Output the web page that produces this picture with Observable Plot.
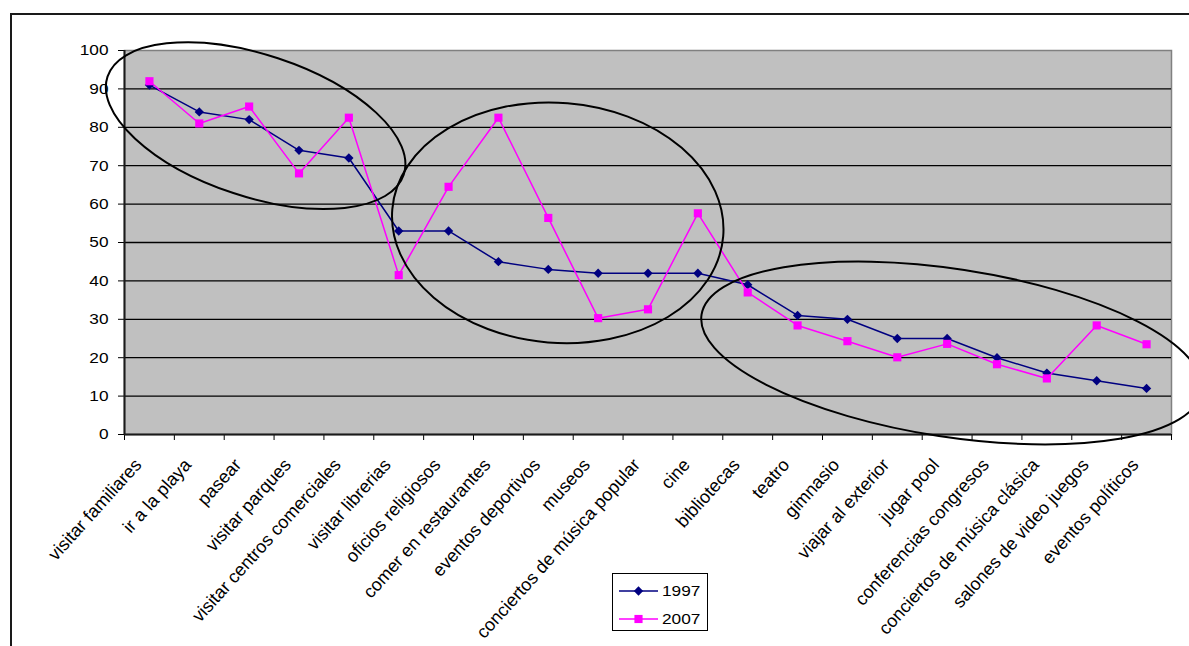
<!DOCTYPE html>
<html>
<head>
<meta charset="utf-8">
<script src="https://cdn.jsdelivr.net/npm/d3@7"></script>
<script src="https://cdn.jsdelivr.net/npm/@observablehq/plot@0.6"></script>
<style>
  html, body { margin: 0; padding: 0; background: #fff; overflow: hidden; }
  #wrap { position: relative; width: 1189px; height: 646px; font-family: "Liberation Sans", Arial, sans-serif; }
  #border { position: absolute; left: 10px; top: 12.5px; width: 1400px; height: 900px;
            border-top: 2px solid #1a1a1a; border-left: 2px solid #1a1a1a; }
  #chart { position: absolute; left: 0; top: 0; }
  #legend { position: absolute; left: 612px; top: 573px; width: 94px; height: 56px;
            border: 1.5px solid #000; background: #fff; }
  .row { position: absolute; left: 0; height: 20px; }
  .row svg { position: absolute; left: 6px; top: 0; }
  .row span { position: absolute; left: 49px; top: 1px; font-size: 15px; line-height: 18px;
              display: inline-block; transform: scaleX(1.15); transform-origin: left center; color: #000; }
</style>
</head>
<body>
<div id="wrap">
  <div id="border"></div>
  <div id="chart"></div>
  <div id="legend"></div>
</div>
<script>
// Actividades de ocio: porcentaje que las realiza, 1997 frente a 2007
const categories = [
  "visitar familiares", "ir a la playa", "pasear", "visitar parques",
  "visitar centros comerciales", "visitar librerias", "oficios religiosos",
  "comer en restaurantes", "eventos deportivos", "museos",
  "conciertos de música popular", "cine", "bibliotecas", "teatro", "gimnasio",
  "viajar al exterior", "jugar pool", "conferencias congresos",
  "conciertos de música clásica", "salones de video juegos", "eventos políticos"
];
const values1997 = [91, 84, 82, 74, 72, 53, 53, 45, 43, 42, 42, 42, 39, 31, 30, 25, 25, 20, 16, 14, 12];
const values2007 = [92, 81, 85.4, 68, 82.5, 41.5, 64.5, 82.5, 56.4, 30.3, 32.6, 57.6, 37, 28.4, 24.3, 20.1, 23.6, 18.3, 14.6, 28.4, 23.5];
const years = ["1997", "2007"];
const yTicks = [0, 10, 20, 30, 40, 50, 60, 70, 80, 90, 100];

const colors = {"1997": "#000080", "2007": "#ff00ff"};

const rows = categories.map((cat, i) => ({i, cat, v1997: values1997[i], v2007: values2007[i]}));
const pos = d => d.i + 0.5;

// Groupings highlighted by hand-drawn ovals: centre (category position, value), radii in px, tilt in degrees
const ovals = [
  {cx: 2.64, cy: 80.3, rx: 156, ry: 71, angle: 18.3},
  {cx: 8.70, cy: 55.0, rx: 166, ry: 120, angle: 4.7},
  {cx: 16.6, cy: 21.1, rx: 253, ry: 84, angle: 8.7}
];

function ovalMark(index, scales) {
  const g = d3.create("svg:g");
  for (const o of ovals) {
    g.append("ellipse")
      .attr("transform", `translate(${scales.x(o.cx)},${scales.y(o.cy)}) rotate(${o.angle})`)
      .attr("rx", o.rx).attr("ry", o.ry)
      .attr("fill", "none").attr("stroke", "#000").attr("stroke-width", 2);
  }
  return g.node();
}

const chart = Plot.plot({
  width: 1189,
  height: 646,
  marginLeft: 124,
  marginRight: 18,
  marginTop: 50,
  marginBottom: 212,
  x: {type: "linear", domain: [0, categories.length]},
  y: {domain: [0, 100]},
  style: {fontFamily: "'Liberation Sans', Arial, sans-serif", fontSize: "15px", color: "#000", background: "transparent", overflow: "visible"},
  marks: [
    Plot.frame({fill: "#c0c0c0", stroke: "#808080", strokeWidth: 1.5}),
    Plot.ruleY(yTicks.filter(t => t > 0 && t < 100), {stroke: "#000", strokeWidth: 1.3}),
    Plot.axisY({ticks: yTicks, tickSize: 6, tickPadding: 10, fontSize: 15, stroke: "#000"}),
    Plot.axisX({ticks: d3.range(categories.length + 1), tickSize: 6, tickFormat: () => "", stroke: "#000"}),
    Plot.ruleX([0], {stroke: "#1a1a1a", strokeWidth: 2}),
    Plot.ruleY([0], {stroke: "#1a1a1a", strokeWidth: 2}),
    Plot.text(rows, {
      x: pos, y: () => 0, text: "cat",
      rotate: -48, textAnchor: "end", lineAnchor: "bottom",
      dx: -7, dy: 31, fontSize: 18, fill: "#000"
    }),
    Plot.line(rows, {x: pos, y: "v1997", stroke: colors["1997"], strokeWidth: 1.5}),
    Plot.dot(rows, {x: pos, y: "v1997", symbol: "diamond2", r: 4.2, fill: colors["1997"], stroke: null}),
    Plot.line(rows, {x: pos, y: "v2007", stroke: colors["2007"], strokeWidth: 1.5}),
    Plot.dot(rows, {x: pos, y: "v2007", symbol: "square", r: 4.6, fill: colors["2007"], stroke: null}),
    ovalMark
  ]
});

// Arial-like digits in the source are a little wide: stretch the value labels horizontally
chart.querySelectorAll('[aria-label="y-axis tick label"] text').forEach(t => {
  const tr = t.getAttribute("transform") || "";
  t.setAttribute("transform", tr + " scale(1.15,1)");
});

document.getElementById("chart").appendChild(chart);

// Legend
const legend = d3.select("#legend");
years.forEach((yr, k) => {
  const row = legend.append("div").attr("class", "row").style("top", `${7 + k * 28}px`).style("width", "94px");
  const svg = row.append("svg").attr("width", 42).attr("height", 20);
  svg.append("line").attr("x1", 0).attr("x2", 39).attr("y1", 10).attr("y2", 10)
    .attr("stroke", colors[yr]).attr("stroke-width", 1.5);
  const sym = k === 0 ? d3.symbolDiamond2 : d3.symbolSquare;
  const size = k === 0 ? Math.PI * 4.2 * 4.2 : Math.PI * 4.6 * 4.6;
  svg.append("path").attr("transform", "translate(19.5,10)").attr("d", d3.symbol(sym, size)())
    .attr("fill", colors[yr]);
  row.append("span").text(yr);
});
</script>
</body>
</html>
